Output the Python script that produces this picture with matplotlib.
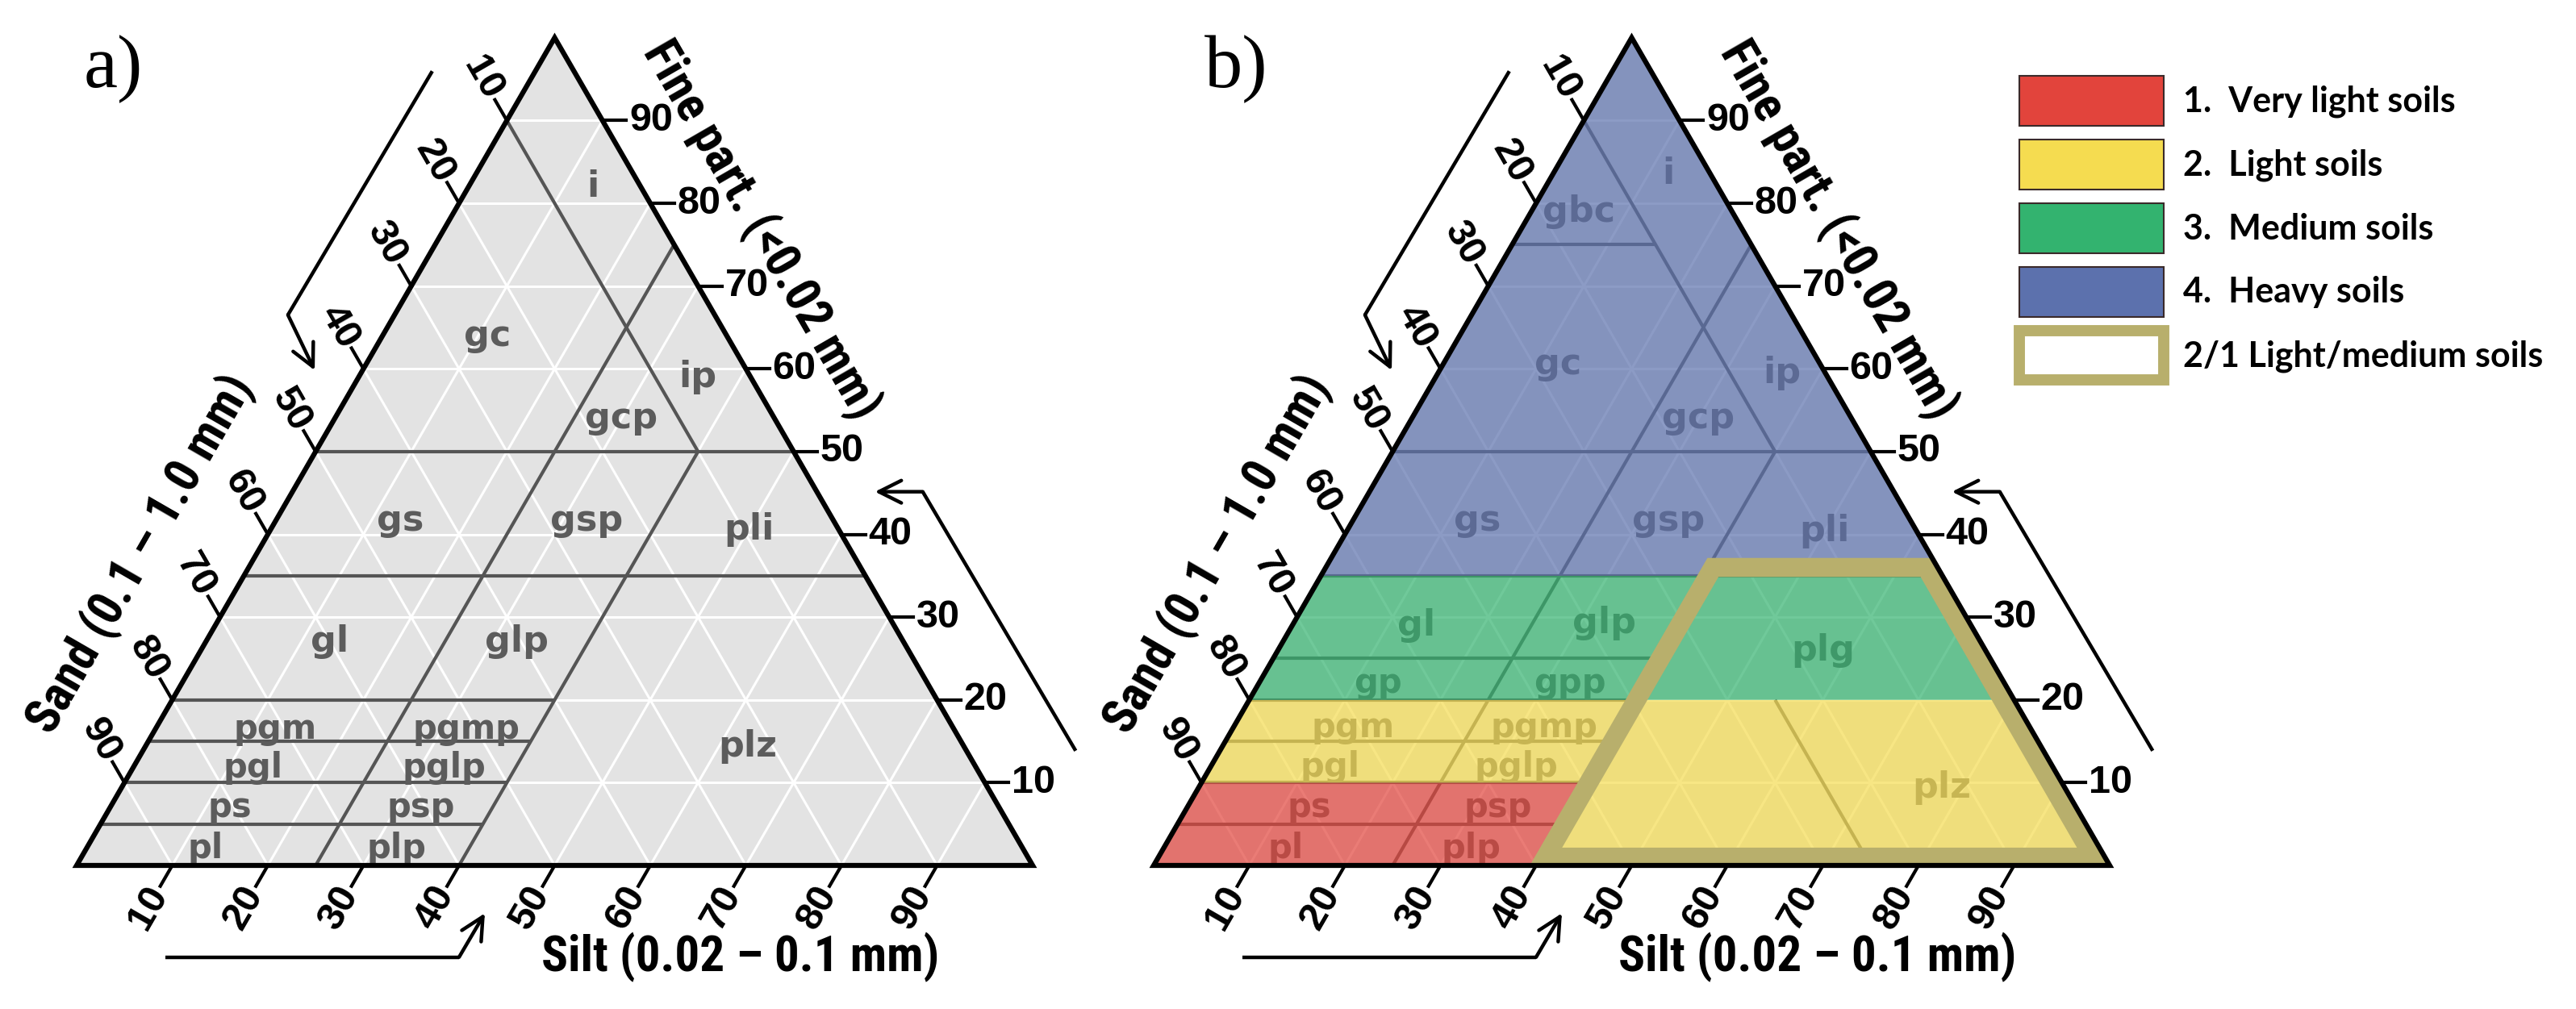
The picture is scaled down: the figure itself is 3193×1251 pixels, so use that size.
import numpy as np
import matplotlib.pyplot as plt
from matplotlib import font_manager
from matplotlib.font_manager import FontProperties
from matplotlib.patches import Polygon, Patch

# ---- data -------------------------------------------------------------
tick_values = [10, 20, 30, 40, 50, 60, 70, 80, 90]
grid_values = [10, 20, 30, 40, 50, 60, 70, 80, 90]

# class boundaries as (silt, fine) segments, sand = 100 - silt - fine
lines_a = [
    [(0, 50), (50, 50)],
    [(0, 35), (65, 35)],
    [(0, 20), (40, 20)],
    [(0, 15), (40, 15)],
    [(0, 10), (40, 10)],
    [(0, 5), (40, 5)],
    [(40, 0), (40, 50)],
    [(25, 0), (25, 75)],
    [(0, 90), (40, 50)],
]
lines_b = lines_a + [
    [(0, 25), (40, 25)],
    [(0, 75), (15, 75)],
    [(55, 20), (75, 0)],
]

# class names with label location (silt, fine)
names_a = ['i', 'gc', 'ip', 'gcp', 'gs', 'gsp', 'pli', 'gl', 'glp',
           'pgm', 'pgmp', 'pgl', 'pglp', 'ps', 'psp', 'pl', 'plp', 'plz']
silt_a = [13, 11, 35.5, 30, 13, 32.5, 50, 13, 32.5,
          12.5, 32.5, 12.5, 32.5, 12.5, 32.5, 12.5, 32.5, 63]
fine_a = [82, 64, 59, 54, 41.7, 41.7, 40.6, 27, 27,
          16.5, 16.5, 11.8, 11.8, 7, 7, 2, 2, 14.4]

names_b = ['gbc', 'i', 'gc', 'ip', 'gcp', 'gs', 'gsp', 'pli', 'gl', 'glp',
           'gp', 'gpp', 'plg', 'pgm', 'pgmp', 'pgl', 'pglp', 'ps', 'psp',
           'pl', 'plp', 'plz']
silt_b = [5, 12, 12, 36, 30, 13, 33, 50, 13, 32.5,
          12.5, 32.5, 57, 12.5, 32.5, 12.5, 32, 12.8, 32.5,
          12.8, 32.2, 77.7]
fine_b = [79, 83.6, 60.6, 59.5, 54, 41.7, 41.7, 40.4, 29, 29.3,
          22, 22, 26, 16.7, 16.7, 11.9, 11.9, 7, 7,
          2, 2, 9.4]
small_names = {'pgm', 'pgmp', 'pgl', 'pglp', 'ps', 'psp', 'pl', 'plp', 'gp', 'gpp'}

# soil groups (panel b)
group_labels = ['1.  Very light soils', '2.  Light soils', '3.  Medium soils',
                '4.  Heavy soils', '2/1 Light/medium soils']
group_colors = ['#E2443C', '#F5DC50', '#33B36F', '#5C71AD']
group_olive = '#B8AF6C'
group_areas = [
    [(0, 0), (40, 0), (40, 10), (0, 10)],
    [(0, 10), (40, 10), (40, 0), (100, 0), (80, 20), (0, 20)],
    [(0, 20), (80, 20), (65, 35), (0, 35)],
    [(0, 35), (65, 35), (0, 100)],
]
light_medium = [(40.5, 1), (40.5, 36), (62.8, 36), (97.8, 1)]

# ---- helpers ----------------------------------------------------------
H = np.sqrt(3) / 2
S = 11.85  # pixels per percent along a side


def xy(silt, fine):
    silt = np.asarray(silt, float)
    fine = np.asarray(fine, float)
    return silt + fine / 2, fine * H


# narrow bold face for the axis titles, if one is installed
title_prop = None
for key in ['LiberationSansNarrow-Bold.', 'RobotoCondensed-Bold.', 'DejaVuSansCondensed-Bold.']:
    for f in font_manager.fontManager.ttflist:
        if key in f.fname.replace('\\', '/').split('/')[-1]:
            title_prop = FontProperties(fname=f.fname, size=44)
            break
    if title_prop is not None:
        break
if title_prop is None:
    title_prop = FontProperties(family='Liberation Sans', weight='bold', size=37)

names = {f.name for f in font_manager.fontManager.ttflist}
legend_font = 'Lato' if 'Lato' in names else 'DejaVu Sans'


def draw_panel(ax, lines, labels, silts, fines, colored=False):
    corners = np.array([xy(0, 0), xy(100, 0), xy(0, 100)])
    ax.add_patch(Polygon(corners, closed=True, fc='#E3E3E3', ec='none', zorder=0))

    for v in grid_values:
        for a, b in [((0, v), (100 - v, v)), ((v, 0), (v, 100 - v)),
                     ((100 - v, 0), (0, 100 - v))]:
            x, y = xy([a[0], b[0]], [a[1], b[1]])
            ax.plot(x, y, color='white', lw=2.2, zorder=1)

    for seg in lines:
        x, y = xy([p[0] for p in seg], [p[1] for p in seg])
        ax.plot(x, y, color='#555555', lw=3, zorder=2, solid_capstyle='butt')

    for name, s, f in zip(labels, silts, fines):
        x, y = xy(s, f)
        ax.text(x, y, name, ha='center', va='center', color='#5C5C5C',
                fontsize=30 if name in small_names else 32, fontweight='bold',
                family='DejaVu Sans', zorder=3)

    if colored:
        for pts, c in zip(group_areas, group_colors):
            x, y = xy([p[0] for p in pts], [p[1] for p in pts])
            ax.add_patch(Polygon(np.column_stack([x, y]), closed=True, fc=c,
                                 ec='none', alpha=0.7, zorder=4))
        x, y = xy([p[0] for p in light_medium], [p[1] for p in light_medium])
        ax.add_patch(Polygon(np.column_stack([x, y]), closed=True, fill=False,
                             ec=group_olive, lw=17, joinstyle='miter', zorder=5))

    ax.add_patch(Polygon(corners, closed=True, fill=False, ec='black', lw=4.5,
                         joinstyle='miter', zorder=6))

    # ticks and tick labels
    L = 2.5
    pad = 0.3
    tick_font = dict(fontsize=35, fontweight='bold', family='Liberation Sans')
    for v in tick_values:
        # silt, bottom
        x0, y0 = xy(v, 0)
        d = np.array([-0.5, -H])
        ax.plot([x0, x0 + L * d[0]], [y0, y0 + L * d[1]], color='black', lw=3, zorder=6)
        tx, ty = np.array([x0, y0]) + (L + pad) * d
        ax.text(tx, ty, str(v), rotation=60, rotation_mode='anchor', ha='right',
                va='center', **tick_font)
        # sand, left
        x0, y0 = xy(0, 100 - v)
        d = np.array([-0.5, H])
        ax.plot([x0, x0 + L * d[0]], [y0, y0 + L * d[1]], color='black', lw=3, zorder=6)
        tx, ty = np.array([x0, y0]) + (L + pad) * d
        ax.text(tx, ty, str(v), rotation=-60, rotation_mode='anchor', ha='right',
                va='center', **tick_font)
        # fine, right
        x0, y0 = xy(100 - v, v)
        ax.plot([x0, x0 + L], [y0, y0], color='black', lw=3, zorder=6)
        ax.text(x0 + L + pad, y0, str(v), ha='left', va='center', **tick_font)

    # axis titles
    ax.text(71.6, 66.5, 'Fine part. (<0.02 mm)', rotation=-60, rotation_mode='anchor',
            ha='center', va='center', fontproperties=title_prop)
    ax.text(6.7, 32.6, 'Sand (0.1 \u2013 1.0 mm)', rotation=60, rotation_mode='anchor',
            ha='center', va='center', fontproperties=title_prop)
    ax.text(69.4, -11.1, 'Silt (0.02 \u2013 0.1 mm)', ha='center', va='baseline',
            fontproperties=title_prop)

    # direction arrows
    arrows = [
        [(37.2, 83.1), (22.1, 57.6), (24.9, 51.8)],
        [(104.5, 12.0), (88.5, 39.1), (83.5, 39.1)],
        [(9.3, -9.6), (40.0, -9.6), (42.7, -5.0)],
    ]
    for p in arrows:
        ax.plot([p[0][0], p[1][0]], [p[0][1], p[1][1]], color='black', lw=3.2,
                solid_capstyle='butt')
        ax.annotate('', xy=p[2], xytext=p[1],
                    arrowprops=dict(arrowstyle='->', lw=3.2, color='black',
                                    mutation_scale=50, shrinkA=0, shrinkB=0))


W, Hpx = 3193, 1251
fig = plt.figure(figsize=(W / 100, Hpx / 100), dpi=100)

ax_a = fig.add_axes([0, 0, 1400 / W, 1])
ax_a.set_xlim((0 - 95) / S, (1400 - 95) / S)
ax_a.set_ylim((1073 - Hpx) / S, 1073 / S)
ax_a.axis('off')
draw_panel(ax_a, lines_a, names_a, silt_a, fine_a)

ax_b = fig.add_axes([1400 / W, 0, (W - 1400) / W, 1])
ax_b.set_xlim((1400 - 1430) / S, (W - 1430) / S)
ax_b.set_ylim((1073 - Hpx) / S, 1073 / S)
ax_b.axis('off')
draw_panel(ax_b, lines_b, names_b, silt_b, fine_b, colored=True)

fig.text(140 / W, 1 - 86 / Hpx, 'a)', ha='center', va='center', fontsize=68,
         family='Liberation Serif')
fig.text(1532 / W, 1 - 86 / Hpx, 'b)', ha='center', va='center', fontsize=68,
         family='Liberation Serif')

fs = 31
px = fs * 100 / 72
handles = [Patch(fc=c, ec='#3A2A2A', lw=1.5) for c in group_colors]
handles.append(Patch(fc='white', ec=group_olive, lw=10))
fig.legend(handles, group_labels, loc='upper left',
           bbox_to_anchor=(2503 / W, 1 - 94 / Hpx), frameon=False,
           prop=dict(family=legend_font, weight='bold', size=fs),
           handlelength=179 / px, handleheight=79 / px, labelspacing=17 / px,
           handletextpad=24 / px, borderpad=0, borderaxespad=0)

fig.savefig('out.png', dpi=100)
